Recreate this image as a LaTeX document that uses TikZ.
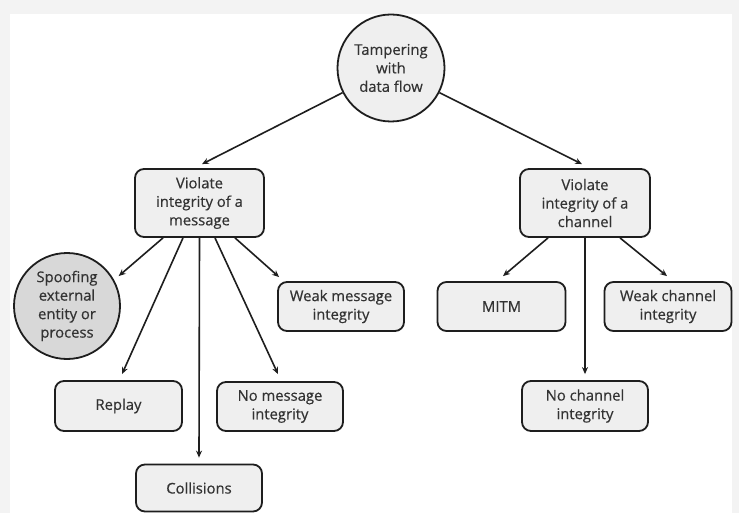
\documentclass[tikz,border=0pt]{standalone}
\usepackage{fontspec}
\setmainfont{Open Sans}
\newfontfamily\lblfont{Open Sans}[FakeBold=0.5]
\usetikzlibrary{arrows.meta}
\definecolor{bggray}{HTML}{F3F3F3}
\definecolor{boxfill}{HTML}{EFEFEF}
\definecolor{spooffill}{HTML}{D8D8D8}
\definecolor{edge}{HTML}{1E1E1E}
\definecolor{txt}{HTML}{333333}
\tikzset{
  base/.style={draw=edge, line width=1.8pt, fill=boxfill, text=txt, align=center,
    font=\lblfont\fontsize{14.8}{18.5}\selectfont, inner sep=0pt},
  rbox/.style={base, rectangle, rounded corners=9pt},
  circ/.style={base, circle},
  arr/.style={draw=edge, line width=1.6pt, -{Stealth[length=7pt,width=6pt]}},
}
\begin{document}
\begin{tikzpicture}[x=1pt,y=-1pt]
  \fill[bggray] (0,0) rectangle (739,513);
  \fill[white] (10,14) rectangle (732,513);
  \useasboundingbox (0,0) rectangle (739,513);

  \node[circ, minimum size=107pt] (root) at (391,68) {Tampering\\with\\data flow};
  \node[rbox, minimum width=129pt, minimum height=68pt] (msg) at (199.5,203) {Violate\\integrity of a\\message};
  \node[rbox, minimum width=130pt, minimum height=68pt] (chan) at (585,203) {Violate\\integrity of a\\channel};

  \node[circ, fill=spooffill, minimum size=106pt] (spoof) at (67,306) {Spoofing\\external\\entity or\\process};
  \node[rbox, minimum width=127pt, minimum height=50pt] (replay) at (118.5,406) {Replay};
  \node[rbox, minimum width=126pt, minimum height=47pt] (coll) at (199,488) {Collisions};
  \node[rbox, minimum width=126pt, minimum height=49pt] (nomsg) at (280,406.5) {No message\\integrity};
  \node[rbox, minimum width=126pt, minimum height=49pt] (weakmsg) at (341,306.5) {Weak message\\integrity};

  \node[rbox, minimum width=128pt, minimum height=49pt] (mitm) at (501.5,306.5) {MITM};
  \node[rbox, minimum width=127pt, minimum height=49pt] (weakch) at (668,306.5) {Weak channel\\integrity};
  \node[rbox, minimum width=126pt, minimum height=50pt] (noch) at (585,406) {No channel\\integrity};

  \draw[arr] (root.207) -- ([xshift=2.5pt,yshift=4pt]msg.north);
  \draw[arr] (root.-27) -- ([xshift=-3pt,yshift=4pt]chan.north);

  \draw[arr] ([xshift=-36.5pt]msg.south) -- ([xshift=5pt,yshift=3pt]spoof.30);
  \draw[arr] ([xshift=-16.5pt]msg.south) -- ([xshift=3.5pt,yshift=6pt]replay.north);
  \draw[arr] (msg.south) -- ([yshift=6pt]coll.north);
  \draw[arr] ([xshift=15.5pt]msg.south) -- ([xshift=-2pt,yshift=7pt]nomsg.north);
  \draw[arr] ([xshift=35.5pt]msg.south) -- ([xshift=2pt,yshift=4pt]weakmsg.north west);

  \draw[arr] ([xshift=-37pt]chan.south) -- ([xshift=1.5pt,yshift=5pt]mitm.north);
  \draw[arr] (chan.south) -- ([yshift=6pt]noch.north);
  \draw[arr] ([xshift=35pt]chan.south) -- ([xshift=-1pt,yshift=5pt]weakch.north);
\end{tikzpicture}
\end{document}
